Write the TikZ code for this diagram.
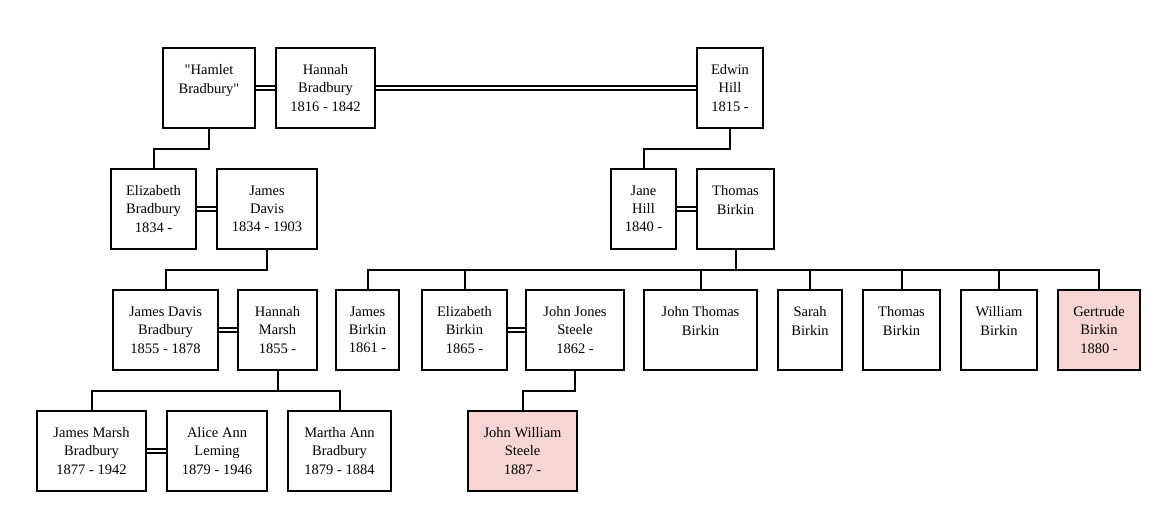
\documentclass[tikz,border=0pt]{standalone}
\usepackage{fontspec}
\setmainfont{Liberation Serif}
\definecolor{deadpink}{HTML}{F6D5D4}
\tikzset{
	person/.style={draw, line width=2pt, align=center, minimum height=80pt, inner sep=0pt,
		font=\fontsize{14.5pt}{18.3pt}\selectfont},
	spouse/.style={double, double distance=2pt, line width=2pt},
	kin/.style={line width=2pt},
}
\begin{document}
\begin{tikzpicture}[x=1pt,y=-1pt]
\useasboundingbox (0,0) rectangle (1164,505);
% first generation
\node[person, minimum width=92pt] (hamlet) at (209,88) {\textquotedbl Hamlet\\Bradbury\textquotedbl\\\mbox{}};
\node[person, minimum width=99pt] (hannahB) at (325.5,88) {Hannah\\Bradbury\\1816 - 1842};
\node[person, minimum width=66pt] (edwin) at (730,88) {Edwin\\Hill\\1815 -};
% second generation
\node[person, minimum width=85pt] (elizB) at (153.5,209) {Elizabeth\\Bradbury\\1834 -};
\node[person, minimum width=100pt] (jamesD) at (267,209) {James\\Davis\\1834 - 1903};
\node[person, minimum width=65pt] (jane) at (643.5,209) {Jane\\Hill\\1840 -};
\node[person, minimum width=77pt] (thomasB) at (735.5,209) {Thomas\\Birkin\\\mbox{}};
% third generation
\node[person, minimum width=105pt] (jdb) at (165.5,330) {James Davis\\Bradbury\\1855 - 1878};
\node[person, minimum width=79pt] (hannahM) at (277.5,330) {Hannah\\Marsh\\1855 -};
\node[person, minimum width=63pt] (jamesBk) at (367.5,330) {James\\Birkin\\1861 -};
\node[person, minimum width=85pt] (elizBk) at (464.5,330) {Elizabeth\\Birkin\\1865 -};
\node[person, minimum width=98pt] (jjs) at (575,330) {John Jones\\Steele\\1862 -};
\node[person, minimum width=113pt] (jtb) at (700.5,330) {John Thomas\\Birkin\\\mbox{}};
\node[person, minimum width=64pt] (sarah) at (810,330) {Sarah\\Birkin\\\mbox{}};
\node[person, minimum width=77pt] (thomasBk) at (901.5,330) {Thomas\\Birkin\\\mbox{}};
\node[person, minimum width=76pt] (william) at (999,330) {William\\Birkin\\\mbox{}};
\node[person, minimum width=82pt, fill=deadpink] (gertrude) at (1099,330) {Gertrude\\Birkin\\1880 -};
% fourth generation
\node[person, minimum width=109pt] (jmb) at (91.5,451) {James Marsh\\Bradbury\\1877 - 1942};
\node[person, minimum width=100pt] (alice) at (217,451) {Alice Ann\\Leming\\1879 - 1946};
\node[person, minimum width=103pt] (martha) at (339.5,451) {Martha Ann\\Bradbury\\1879 - 1884};
\node[person, minimum width=109pt, fill=deadpink] (jws) at (522.5,451) {John William\\Steele\\1887 -};
% marriages
\draw[spouse] (hamlet.east) -- (hannahB.west);
\draw[spouse] (hannahB.east) -- (edwin.west);
\draw[spouse] (elizB.east) -- (jamesD.west);
\draw[spouse] (jane.east) -- (thomasB.west);
\draw[spouse] (jdb.east) -- (hannahM.west);
\draw[spouse] (elizBk.east) -- (jjs.west);
\draw[spouse] (jmb.east) -- (alice.west);
% children
\draw[kin] (hamlet.south) -- ++(0,20) -| (elizB.north);
\draw[kin] (edwin.south) -- ++(0,20) -| (jane.north);
\draw[kin] (jamesD.south) -- ++(0,20) -| (jdb.north);
\draw[kin] (jjs.south) -- ++(0,20) -| (jws.north);
\draw[kin] (thomasB.south) -- ++(0,20) coordinate (tbar);
\foreach \c in {jamesBk,elizBk,jtb,sarah,thomasBk,william,gertrude}
{
	\draw[kin] (tbar) -| (\c.north);
}
\draw[kin] (hannahM.south) -- ++(0,20) coordinate (hbar);
\foreach \c in {jmb,martha}
{
	\draw[kin] (hbar) -| (\c.north);
}
\end{tikzpicture}
\end{document}
